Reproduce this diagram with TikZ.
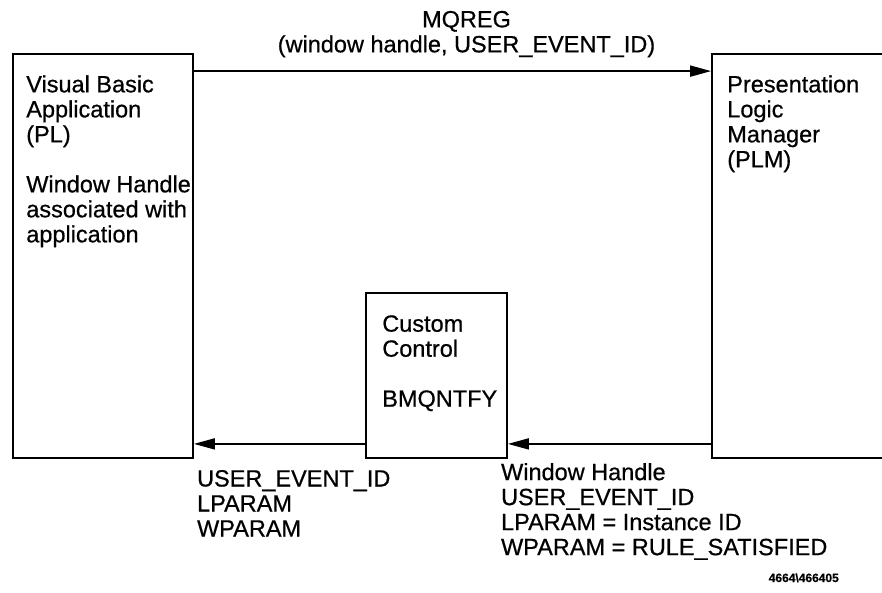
\documentclass[tikz,border=0pt]{standalone}
\usepackage{fontspec}
\setmainfont[FakeBold=0.6]{Liberation Sans}
\usetikzlibrary{positioning, arrows.meta}

\newcommand{\figfont}{\fontsize{23.5}{25}\selectfont}

\begin{document}
\begin{tikzpicture}[
    x=1pt, y=-1pt,
    box/.style={draw, rectangle, line width=1.8pt, inner sep=0pt},
    txt/.style={align=left, inner sep=0pt, font=\figfont},
    arr/.style={-{Triangle[length=21pt,width=11pt]}, line width=1.8pt}
]
    \clip (0,0) rectangle (882,592);

    \node[box, minimum width=180pt, minimum height=404pt] (vb) at (103,256) {};
    \node[box, minimum width=141pt, minimum height=165pt] (cc) at (436.5,375.5) {};
    \node[box, minimum width=200pt, minimum height=404pt] (plm) at (812,256) {};

    \node[txt, below right=22pt and 14pt of vb.north west] (vbtext) {Visual Basic\\Application\\(PL)\\[25pt]Window Handle\\associated with\\application};
    \node[txt, below right=23pt and 17pt of cc.north west] (cctext) {Custom\\Control\\[25pt]BMQNTFY};
    \node[txt, below right=22pt and 16pt of plm.north west] (plmtext) {Presentation\\Logic\\Manager\\(PLM)};

    \draw[arr] ([yshift=-18pt]vb.north east) -- node[txt, align=center, above=13pt, xshift=14pt] (mqreg) {MQREG\\(window handle, USER\_EVENT\_ID)} ([yshift=-18pt]plm.north west);
    \draw[arr] ([yshift=15pt]cc.south west) -- ([yshift=15pt]vb.south east);
    \draw[arr] ([yshift=15pt]plm.south west) -- ([yshift=15pt]cc.south east);

    \node[txt, below right=11pt and 3pt of vb.south east] (lefttext) {USER\_EVENT\_ID\\LPARAM\\WPARAM};
    \node[txt, below right=4pt and -7pt of cc.south east] (righttext) {Window Handle\\USER\_EVENT\_ID\\LPARAM = Instance ID\\WPARAM = RULE\_SATISFIED};

    \node[inner sep=0pt, anchor=base east, font=\fontsize{12}{14}\selectfont\bfseries] (figid) at (839,582) {4664\textbackslash 466405};
\end{tikzpicture}
\end{document}
